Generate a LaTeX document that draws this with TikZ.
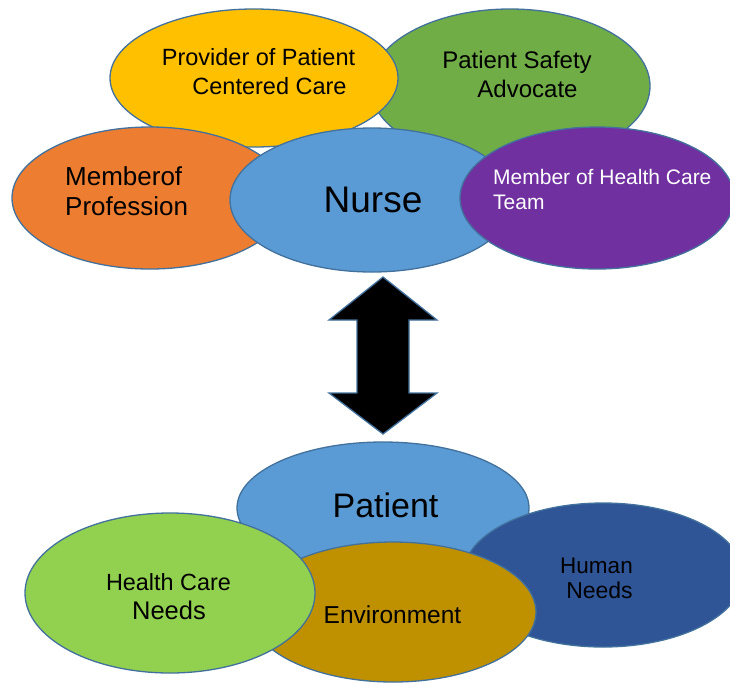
\documentclass[tikz,border=0pt]{standalone}
\usepackage{fontspec}
\setmainfont{Liberation Sans}
\usetikzlibrary{shapes.geometric}
\definecolor{cYellow}{HTML}{FFC000}
\definecolor{cGreen}{HTML}{70AD47}
\definecolor{cOrange}{HTML}{ED7D31}
\definecolor{cBlue}{HTML}{5B9BD5}
\definecolor{cPurple}{HTML}{7030A0}
\definecolor{cLight}{HTML}{92D050}
\definecolor{cGold}{HTML}{BF9000}
\definecolor{cNavy}{HTML}{2F5597}
\definecolor{cEdge}{HTML}{41719C}
\tikzset{
  oval/.style={ellipse, draw=cEdge, line width=1.3pt, inner sep=0pt},
  lbl/.style={anchor=base, inner sep=0pt, text=black},
  lblw/.style={anchor=base west, inner sep=0pt},
  fs/.style={font=\fontsize{#1}{#1}\selectfont},
  blockarrow/.style={fill=black, draw=cEdge, line width=1.3pt, line join=miter}
}
\begin{document}
\begin{tikzpicture}[x=1pt,y=-1pt]
\useasboundingbox (0,0) rectangle (730,683);
\clip (0,0) rectangle (730,683);
% top group
\node[oval, fill=cGreen, minimum width=280pt, minimum height=154pt] (safety) at (510,86) {};
\node[oval, fill=cYellow, minimum width=288pt, minimum height=138pt] (provider) at (254,78) {};
\node[oval, fill=cOrange, minimum width=276pt, minimum height=142pt] (profession) at (150,198) {};
\node[oval, fill=cBlue, minimum width=284pt, minimum height=144pt] (nurse) at (372,200) {};
\node[oval, fill=cPurple, minimum width=274pt, minimum height=142pt] (team) at (597,198) {};

\node[lbl, fs=23.5] (prov1) at (258.5,65) {Provider of Patient};
\node[lbl, fs=23.5] (prov2) at (269.5,94) {Centered Care};
\node[lbl, fs=24] (safe1) at (517,68) {Patient Safety};
\node[lbl, fs=24] (safe2) at (527.5,97) {Advocate};
\node[lblw, fs=26] (mem1) at (65,185) {Memberof};
\node[lblw, fs=26] (mem2) at (65,215) {Profession};
\node[lbl, fs=37] (nurseT) at (373,212) {Nurse};
\node[lblw, fs=21, text=white] (team1) at (493,184) {Member of Health Care};
\node[lblw, fs=21, text=white] (team2) at (493,209) {Team};

% double arrow
\coordinate (atop) at (383,277);
\coordinate (abot) at (383,434);
\draw[blockarrow] (atop) -- (437,320) -- (409,320) -- (409,393) -- (437,393)
  -- (abot) -- (329,393) -- (357,393) -- (357,320) -- (329,320) -- cycle;

% bottom group
\node[oval, fill=cBlue, minimum width=292pt, minimum height=132pt] (patient) at (383,508) {};
\node[oval, fill=cNavy, minimum width=280pt, minimum height=144pt] (human) at (603,575) {};
\node[oval, fill=cGold, minimum width=286pt, minimum height=140pt] (environment) at (393,612) {};
\node[oval, fill=cLight, minimum width=290pt, minimum height=160pt] (health) at (170,593) {};

\node[lbl, fs=34] (patT) at (385.5,517) {Patient};
\node[lbl, fs=23.4] (hc1) at (168.5,590) {Health Care};
\node[lbl, fs=25.5] (hc2) at (169,619) {Needs};
\node[lbl, fs=24.5] (envT) at (392.5,623) {Environment};
\node[lbl, fs=22.5] (hum1) at (596.5,573) {Human};
\node[lbl, fs=23] (hum2) at (599.5,598) {Needs};
\end{tikzpicture}
\end{document}
